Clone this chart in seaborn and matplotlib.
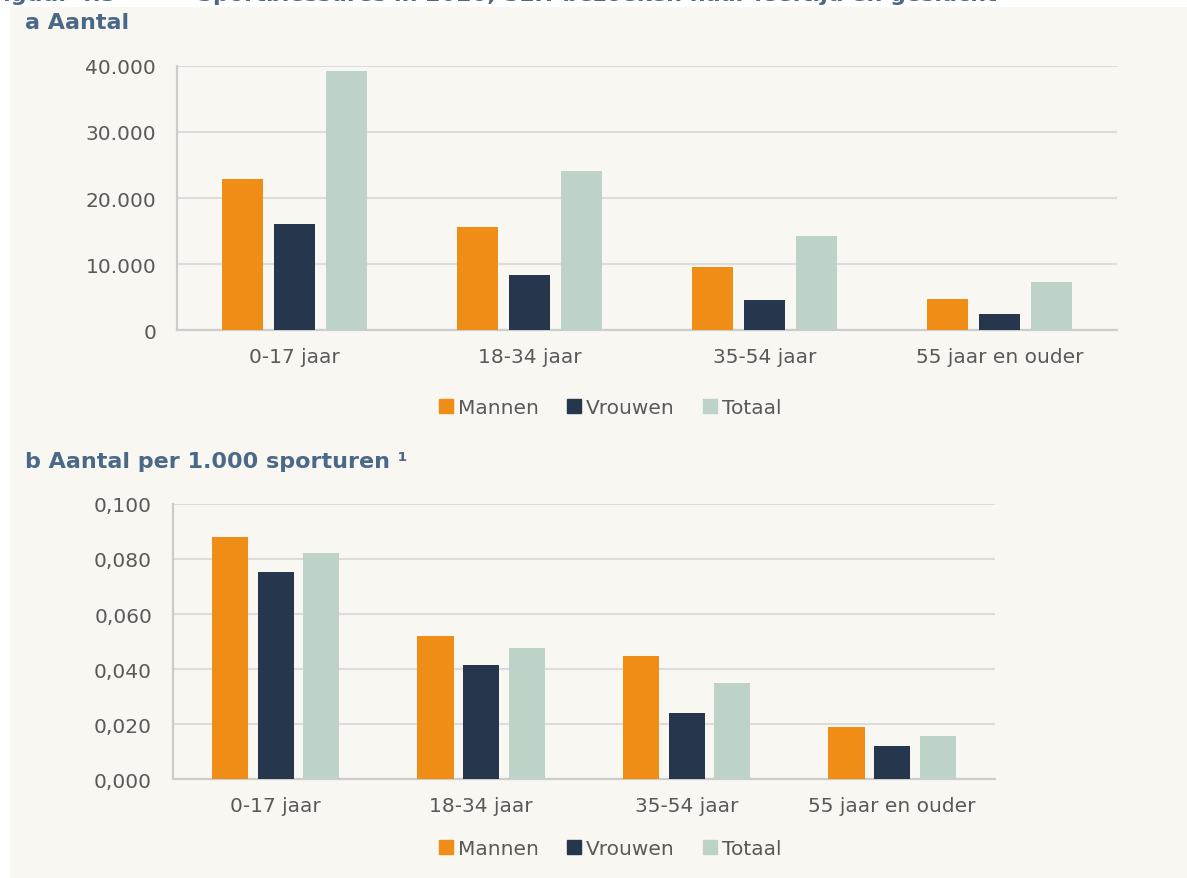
import seaborn as sb
from matplotlib import pyplot as plt
from matplotlib.lines import Line2D
from matplotlib.patches import Rectangle
from matplotlib.ticker import FuncFormatter
import pandas as pd

# data
leeftijd = ['0-17 jaar', '18-34 jaar', '35-54 jaar', '55 jaar en ouder']
groepen = ['Mannen', 'Vrouwen', 'Totaal']

aantal_mannen = [22900, 15600, 9550, 4700]
aantal_vrouwen = [16100, 8350, 4550, 2450]
aantal_totaal = [39200, 24100, 14250, 7300]

per_uur_mannen = [0.0880, 0.0520, 0.0447, 0.0189]
per_uur_vrouwen = [0.0753, 0.0414, 0.0240, 0.0120]
per_uur_totaal = [0.0822, 0.0476, 0.0349, 0.0156]

kleuren = ['#f08d17', '#26374d', '#bdd3c7']
bg = '#f9f7f1'
tekst = '#595959'
titel_kleur = '#4a6888'

sb.set_style('white')
plt.rcParams['font.family'] = ['DejaVu Sans']


def long_df(m, v, t):
    rows = []
    for g, vals in zip(groepen, [m, v, t]):
        for cat, val in zip(leeftijd, vals):
            rows.append({'leeftijd': cat, 'groep': g, 'waarde': val})
    return pd.DataFrame(rows)


fig = plt.figure(figsize=(11.87, 8.79), dpi=100, facecolor='white')
fig.patches.append(Rectangle((10 / 1187, 0), 1, 1 - 8 / 879, transform=fig.transFigure,
                             facecolor=bg, edgecolor='none', zorder=-10))

ax1 = fig.add_axes([0.1491, 0.6234, 0.7919, 0.3004])
ax2 = fig.add_axes([0.1457, 0.1126, 0.6925, 0.3129])

panels = [
    (ax1, long_df(aantal_mannen, aantal_vrouwen, aantal_totaal), 40000, 10000,
     lambda x, p: f'{int(x):,}'.replace(',', '.'), 1 - 409 / 879),
    (ax2, long_df(per_uur_mannen, per_uur_vrouwen, per_uur_totaal), 0.1, 0.02,
     lambda x, p: f'{x:.3f}'.replace('.', ','), 1 - 850 / 879),
]

for ax, df, ymax, step, fmt, leg_y in panels:
    ax.set_facecolor(bg)
    sb.barplot(data=df, x='leeftijd', y='waarde', hue='groep', palette=kleuren,
               width=0.667, gap=0.21, ax=ax, legend=False, saturation=1,
               linewidth=0, zorder=3)
    ax.set_ylim(0, ymax)
    ax.set_xlim(-0.5, 3.5)
    n = int(round(ymax / step))
    ax.set_yticks([i * step for i in range(n + 1)])
    ax.yaxis.set_major_formatter(FuncFormatter(fmt))
    ax.grid(axis='y', color='#dcdcdc', lw=1.5, zorder=0)
    ax.set_axisbelow(True)
    for s in ['top', 'right']:
        ax.spines[s].set_visible(False)
    for s in ['left', 'bottom']:
        ax.spines[s].set_color('#cccccc')
        ax.spines[s].set_linewidth(1.6)
    ax.tick_params(axis='both', length=0, labelsize=14.5, labelcolor=tekst)
    ax.tick_params(axis='y', pad=15)
    ax.tick_params(axis='x', pad=12)
    ax.set_xlabel('')
    ax.set_ylabel('')
    handles = [Line2D([], [], marker='s', ls='', color=c, markersize=10) for c in kleuren]
    leg = ax.legend(handles, groepen, loc='center', bbox_to_anchor=(610 / 1187, leg_y),
                    bbox_transform=fig.transFigure, ncol=3, frameon=False, fontsize=14.5,
                    handlelength=0.7, handletextpad=0.25, columnspacing=1.4,
                    borderaxespad=0)
    for t in leg.get_texts():
        t.set_color(tekst)

# bold headings
fig.text(-0.01, 1 + 5 / 879, 'Figuur 4.3', fontsize=16, fontweight='bold', color=titel_kleur,
         va='center', ha='left')
fig.text(197 / 1187, 1 + 5 / 879, 'Sportblessures in 2020, SEH-bezoeken naar leeftijd en geslacht',
         fontsize=16, fontweight='bold', color=titel_kleur, va='center', ha='left')
fig.text(25 / 1187, 1 - 23 / 879, 'a Aantal', fontsize=16, fontweight='bold',
         color=titel_kleur, va='center', ha='left')
fig.text(25 / 1187, 1 - 462 / 879, 'b Aantal per 1.000 sporturen ¹', fontsize=16,
         fontweight='bold', color=titel_kleur, va='center', ha='left')

fig.savefig('out.png', dpi=100, facecolor='white')
